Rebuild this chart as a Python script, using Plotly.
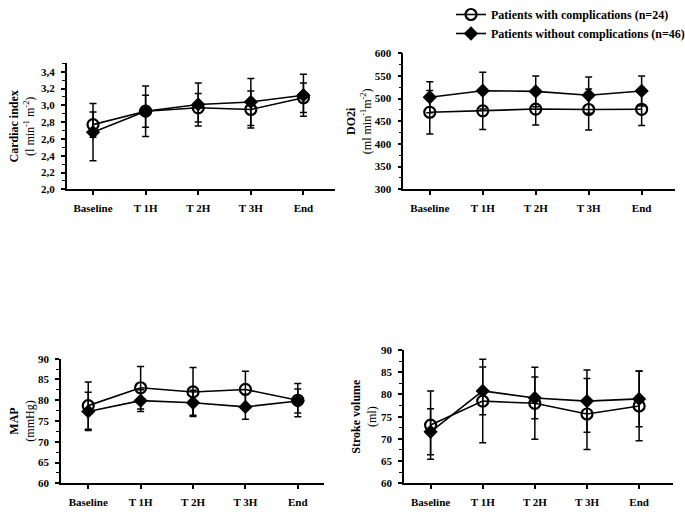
import plotly.graph_objects as go

# ---------------- data ----------------
categories = ["Baseline", "T 1H", "T 2H", "T 3H", "End"]
series_names = ["Patients with complications (n=24)",
                "Patients without complications (n=46)"]

ci_with = [2.77, 2.93, 2.97, 2.95, 3.09]
ci_with_sd = [0.15, 0.19, 0.17, 0.22, 0.175]
ci_without = [2.68, 2.93, 3.01, 3.04, 3.12]
ci_without_sd = [0.34, 0.30, 0.255, 0.28, 0.25]

do2_with = [470, 473, 477, 476, 476.5]
do2_with_sd = [48, 41, 35, 45, 36]
do2_without = [503, 517.5, 516, 507.5, 517]
do2_without_sd = [34, 40.5, 34, 40, 33]

map_with = [78.7, 83.0, 82.0, 82.6, 80.0]
map_with_sd = [5.7, 5.1, 5.9, 4.4, 4.0]
map_without = [77.3, 79.9, 79.4, 78.4, 79.8]
map_without_sd = [4.6, 2.6, 3.0, 3.0, 2.9]

sv_with = [73.1, 78.5, 78.0, 75.6, 77.4]
sv_with_sd = [7.7, 9.4, 8.1, 8.0, 7.8]
sv_without = [71.6, 80.8, 79.2, 78.5, 79.0]
sv_without_sd = [5.2, 5.4, 4.7, 7.0, 6.3]

ci_tickvals = [2.0, 2.2, 2.4, 2.6, 2.8, 3.0, 3.2, 3.4]
ci_ticktext = ["2,0", "2,2", "2,4", "2,6", "2,8", "3,0", "3,2", "3,4"]
do2_tickvals = [300, 350, 400, 450, 500, 550, 600]
map_tickvals = [60, 65, 70, 75, 80, 85, 90]
sv_tickvals = [60, 65, 70, 75, 80, 85, 90]

# ---------------- figure ----------------
W, H = 685, 518
FONT = "Liberation Serif"

panels = [
    dict(with_=ci_with, with_sd=ci_with_sd, wo=ci_without, wo_sd=ci_without_sd,
         tv=ci_tickvals, tt=ci_ticktext, yr=[2.0, 3.5], minor=0.1,
         title="<b>Cardiac index</b><br>(l min<sup>-1</sup> m<sup>-2</sup>)", standoff=4,
         px=(66.7, 335), py=(63.3, 189.3), xr=[-0.5, 4.6]),
    dict(with_=do2_with, with_sd=do2_with_sd, wo=do2_without, wo_sd=do2_without_sd,
         tv=do2_tickvals, tt=[str(v) for v in do2_tickvals], yr=[300, 600], minor=25,
         title="<b>DO2i</b><br>(ml min<sup>-1</sup>m<sup>-2</sup>)", standoff=1,
         px=(403.3, 675), py=(53.3, 189.3), xr=[-0.5, 4.63]),
    dict(with_=map_with, with_sd=map_with_sd, wo=map_without, wo_sd=map_without_sd,
         tv=map_tickvals, tt=[str(v) for v in map_tickvals], yr=[60, 90], minor=2.5,
         title="<b>MAP</b><br>(mmHg)", standoff=1,
         px=(61, 324), py=(358.7, 483.3), xr=[-0.52, 4.5]),
    dict(with_=sv_with, with_sd=sv_with_sd, wo=sv_without, wo_sd=sv_without_sd,
         tv=sv_tickvals, tt=[str(v) for v in sv_tickvals], yr=[60, 90], minor=2.5,
         title="<b>Stroke volume</b><br>(ml)", standoff=2,
         px=(404, 673), py=(350, 483.3), xr=[-0.51, 4.65]),
]

fig = go.Figure()
layout = {}

for i, p in enumerate(panels):
    n = "" if i == 0 else str(i + 1)
    xa, ya = "x" + n, "y" + n
    first = (i == 0)
    fig.add_trace(go.Scatter(
        x=categories, y=p["with_"], xaxis=xa, yaxis=ya,
        name=series_names[0], legendgroup="with", showlegend=first,
        mode="lines+markers",
        line=dict(color="black", width=1.6),
        marker=dict(symbol="circle-open", size=11, color="black", line=dict(width=2.2)),
        error_y=dict(type="data", array=p["with_sd"], color="black", thickness=1.5, width=3.5),
    ))
    fig.add_trace(go.Scatter(
        x=categories, y=p["wo"], xaxis=xa, yaxis=ya,
        name=series_names[1], legendgroup="without", showlegend=first,
        mode="lines+markers",
        line=dict(color="black", width=1.6),
        marker=dict(symbol="diamond", size=11, color="black"),
        error_y=dict(type="data", array=p["wo_sd"], color="black", thickness=1.5, width=3.5),
    ))
    layout["xaxis" + n] = dict(
        domain=[p["px"][0] / W, p["px"][1] / W],
        anchor=ya, type="category", range=p["xr"], automargin=False,
        showline=True, linecolor="black", linewidth=1.5,
        ticks="outside", ticklen=4, tickwidth=1.5, tickcolor="black",
        showgrid=False, zeroline=False, ticklabelstandoff=4,
        tickfont=dict(family=FONT, size=11, color="black", weight="bold"),
    )
    layout["yaxis" + n] = dict(
        domain=[1 - p["py"][1] / H, 1 - p["py"][0] / H],
        anchor=xa, range=p["yr"], automargin=False,
        tickmode="array", tickvals=p["tv"], ticktext=p["tt"],
        showline=True, linecolor="black", linewidth=1.5,
        ticks="outside", ticklen=4, tickwidth=1.5, tickcolor="black",
        minor=dict(tickmode="linear", tick0=p["yr"][0], dtick=p["minor"],
                   ticks="outside", ticklen=3, tickwidth=1, tickcolor="black"),
        showgrid=False, zeroline=False, ticklabelstandoff=4,
        tickfont=dict(family=FONT, size=11, color="black", weight="bold"),
        title=dict(text=p["title"], standoff=p["standoff"],
                   font=dict(family=FONT, size=12, color="black")),
    )

fig.update_layout(
    **layout,
    width=W, height=H,
    margin=dict(l=0, r=0, t=0, b=0, autoexpand=False),
    paper_bgcolor="white", plot_bgcolor="white",
    font=dict(family=FONT, color="black"),
    showlegend=True,
    legend=dict(x=451 / W, y=1.0, xref="container", yref="container",
                xanchor="left", yanchor="top",
                bgcolor="rgba(0,0,0,0)", itemwidth=30, tracegroupgap=0,
                font=dict(family=FONT, size=12, color="black", weight="bold")),
)

fig.write_html("out.html", config={"displayModeBar": False},
               post_script="document.body.style.margin='0';")
